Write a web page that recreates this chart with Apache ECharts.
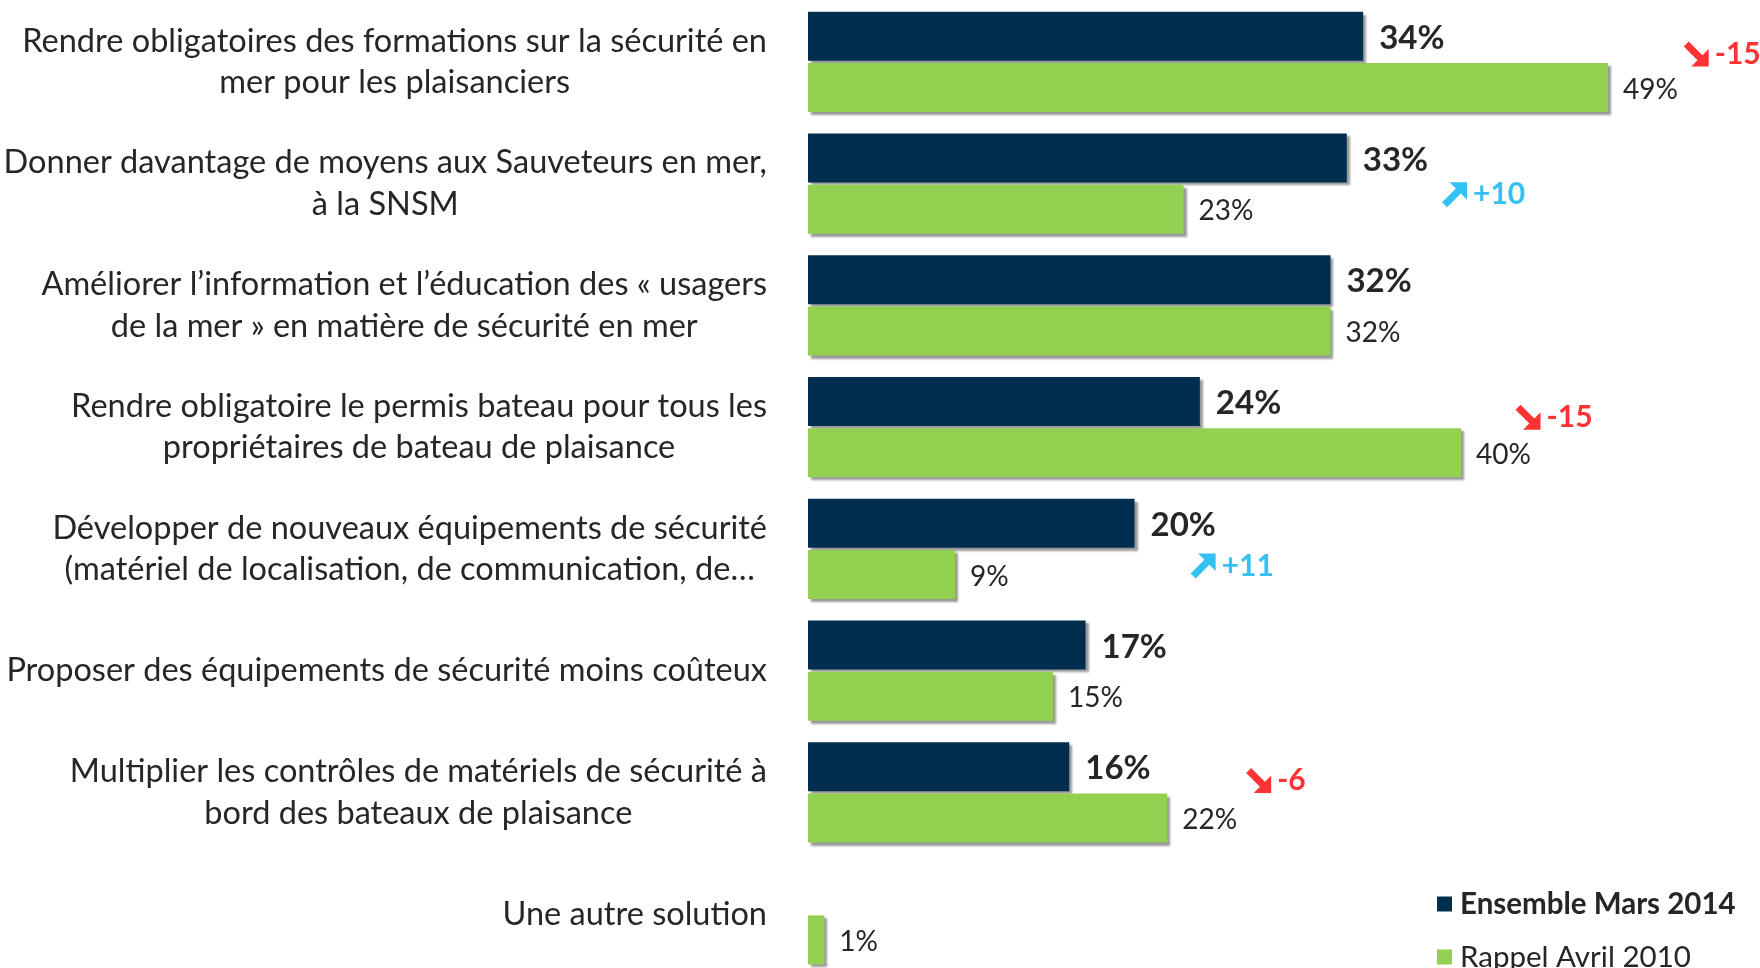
<!DOCTYPE html>
<html lang="fr">
<head>
    <meta charset="UTF-8">
    <title>Solutions sécurité en mer</title>
    <script src="https://cdn.jsdelivr.net/npm/echarts@6/dist/echarts.min.js"></script>
    <style>
        html, body { margin: 0; padding: 0; background: #fff; }
        #main { width: 1760px; height: 968px; }
    </style>
</head>
<body>
<div id="main"></div>
<script>
    // données
    var categories = [
        'Rendre obligatoires des formations sur la sécurité en\nmer pour les plaisanciers',
        'Donner davantage de moyens aux Sauveteurs en mer,\nà la SNSM',
        'Améliorer l’information et l’éducation des « usagers\nde la mer » en matière de sécurité en mer',
        'Rendre obligatoire le permis bateau pour tous les\npropriétaires de bateau de plaisance',
        'Développer de nouveaux équipements de sécurité\n(matériel de localisation, de communication, de…',
        'Proposer des équipements de sécurité moins coûteux',
        'Multiplier les contrôles de matériels de sécurité à\nbord des bateaux de plaisance',
        'Une autre solution'
    ];
    var mars2014 = [34, 33, 32, 24, 20, 17, 16, null];
    var avril2010 = [49, 23, 32, 40, 9, 15, 22, 1];
    var evolution = [-15, 10, null, -15, 11, null, -6, null];
    // où sont posées les flèches d'évolution (en % sur l'axe)
    var evolutionAt = [54.4, 39.6, null, 44.1, 24.2, null, 27.6, null];

    var seriesNames = ['Ensemble Mars 2014', 'Rappel Avril 2010'];

    // décalage vertical des flèches (px)
    var evoShiftY = [-8, 11, 0, -10, 17, 0, -12, 0];

    var arrowDown = 'path://M2,0 L7.5,5.5 L10,3 L10,10 L3,10 L5.5,7.5 L0,2 Z';
    var arrowUp = 'path://M0,8 L5.5,2.5 L3,0 L10,0 L10,7 L7.5,4.5 L2,10 Z';

    var evoData = [];
    evolution.forEach(function (d, i) {
        if (d == null) return;
        var neg = d < 0;
        var col = neg ? '#FF0000' : '#00B0F0';
        evoData.push({
            value: [evolutionAt[i], categories[i]],
            delta: d,
            symbol: neg ? arrowDown : arrowUp,
            symbolOffset: [0, evoShiftY[i]],
            itemStyle: { color: col },
            label: { color: col }
        });
    });

    var shadow = {
        shadowColor: 'rgba(0,0,0,0.4)',
        shadowBlur: 2,
        shadowOffsetX: 3,
        shadowOffsetY: 3
    };

    var legendText = { fontSize: 29.5, color: '#262626', padding: [0, 0, 0, 3], fontFamily: 'Lato' };

    var myChart = echarts.init(document.getElementById('main'));
    var option = {
        animation: false,
        textStyle: { fontFamily: 'Lato' },
        grid: { left: 808, top: 1, width: 947, height: 974, outerBoundsMode: 'none', containLabel: false },
        legend: [
            {
                left: 1432,
                top: 884,
                itemWidth: 15,
                itemHeight: 15,
                icon: 'rect',
                textStyle: legendText,
                data: [{ name: seriesNames[0], textStyle: { fontWeight: 'bold' } }]
            },
            {
                left: 1432,
                top: 937,
                itemWidth: 15,
                itemHeight: 15,
                icon: 'rect',
                textStyle: legendText,
                data: [{ name: seriesNames[1] }]
            }
        ],
        xAxis: {
            type: 'value',
            min: 0,
            max: 58,
            show: false
        },
        yAxis: {
            type: 'category',
            inverse: true,
            data: categories,
            axisLine: { show: false },
            axisTick: { show: false },
            axisLabel: {
                interval: 0,
                margin: 41,
                align: 'right',
                formatter: function (v) {
                    return v.split('\n').map(function (l) { return '{c|' + l + '}'; }).join('\n');
                },
                rich: {
                    c: { align: 'center', fontSize: 32.5, lineHeight: 41.5, color: '#262626', fontFamily: 'Lato' }
                }
            }
        },
        series: [
            {
                name: seriesNames[0],
                type: 'bar',
                data: mars2014,
                barWidth: 49,
                barGap: '5%',
                itemStyle: Object.assign({ color: '#012E4F' }, shadow),
                label: {
                    show: true,
                    position: 'right',
                    distance: 16,
                    offset: [0, 2],
                    formatter: '{c}%',
                    fontSize: 33,
                    fontWeight: 'bold',
                    color: '#262626',
                    fontFamily: 'Lato'
                }
            },
            {
                name: seriesNames[1],
                type: 'bar',
                data: avril2010,
                barWidth: 49,
                itemStyle: Object.assign({ color: '#92D050' }, shadow),
                label: {
                    show: true,
                    position: 'right',
                    distance: 15,
                    offset: [0, 2],
                    formatter: '{c}%',
                    fontSize: 28,
                    color: '#262626',
                    fontFamily: 'Lato'
                }
            },
            {
                name: 'evolution',
                type: 'scatter',
                data: evoData,
                symbolSize: 25,
                silent: true,
                z: 5,
                label: {
                    show: true,
                    position: 'right',
                    distance: 6,
                    fontSize: 30,
                    fontWeight: 'bold',
                    fontFamily: 'Lato',
                    formatter: function (p) {
                        return (p.data.delta > 0 ? '+' : '') + p.data.delta;
                    }
                }
            }
        ]
    };
    myChart.setOption(option);
</script>
</body>
</html>
